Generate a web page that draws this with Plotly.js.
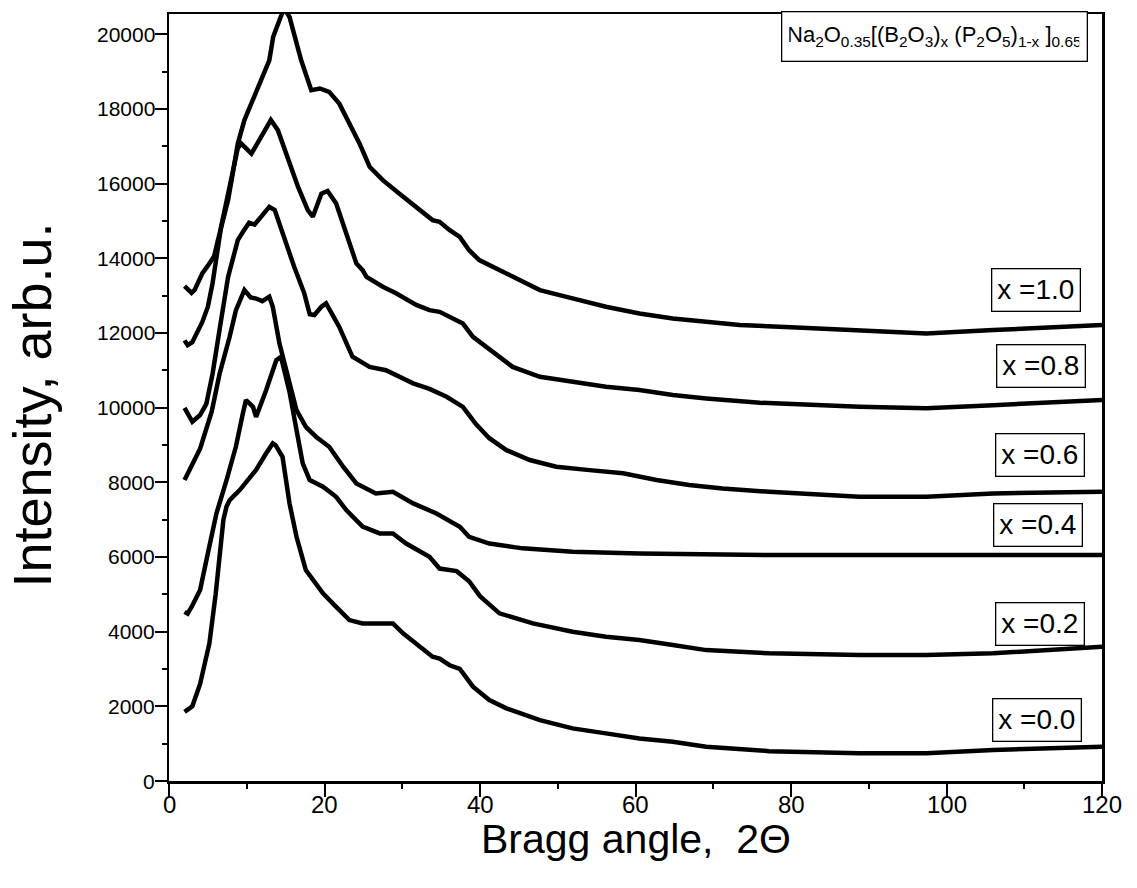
<!DOCTYPE html>
<html>
<head>
<meta charset="utf-8">
<script src="https://cdn.plot.ly/plotly-3.0.1.min.js"></script>
<style>
html,body{margin:0;padding:0;background:#fff;}
#chart{width:1137px;height:888px;}
</style>
</head>
<body>
<div id="chart"></div>
<script>
// Series (2Θ in degrees, intensity in arb.u.)
const x10 = [2.0, 2.9, 3.3, 4.3, 5.0, 5.8, 6.3, 6.9, 7.6, 8.2, 8.85, 9.7, 11.0, 12.1, 12.9, 13.4, 14.0, 14.8, 15.5, 16.4, 17.0, 18.3, 19.4, 20.6, 21.9, 23.2, 24.5, 25.8, 27.5, 29.6, 31.8, 33.9, 34.8, 36.1, 37.4, 38.6, 39.9, 43.4, 47.7, 51.9, 56.2, 60.5, 64.8, 69.1, 73.4, 80, 88.8, 97.4, 106, 113, 120];
const y10 = [13250, 13070, 13150, 13600, 13800, 14050, 14485, 15020, 15555, 16270, 17070, 17700, 18320, 18900, 19300, 19930, 20300, 20700, 20460, 19750, 19300, 18500, 18545, 18455, 18140, 17610, 17075, 16450, 16090, 15735, 15375, 15020, 14975, 14750, 14570, 14215, 13950, 13590, 13145, 12925, 12700, 12520, 12385, 12300, 12210, 12150, 12075, 11985, 12075, 12150, 12210];

const x08 = [2.0, 2.4, 3.0, 4.3, 5.0, 5.6, 6.7, 7.6, 8.85, 9.3, 10.6, 11.85, 13.1, 14.0, 15.3, 16.6, 17.85, 18.5, 19.6, 20.4, 21.5, 22.8, 24.1, 24.9, 25.4, 27.5, 29.2, 31.8, 33.5, 34.8, 36.1, 37.8, 39.1, 41.2, 44.2, 47.7, 51.9, 56.2, 60.5, 64.8, 69.1, 73.4, 76, 88.8, 97.4, 106, 113, 120];
const y08 = [11800, 11670, 11750, 12300, 12700, 13325, 14840, 15730, 16950, 17070, 16800, 17250, 17700, 17430, 16630, 15910, 15290, 15110, 15730, 15800, 15465, 14665, 13860, 13680, 13500, 13235, 13060, 12750, 12610, 12565, 12430, 12250, 11895, 11560, 11090, 10825, 10690, 10560, 10470, 10335, 10245, 10155, 10130, 10020, 9980, 10065, 10130, 10200];

const x06 = [2.0, 3.0, 4.0, 4.8, 5.6, 6.3, 6.7, 7.6, 8.85, 9.5, 10.3, 11.0, 11.85, 12.9, 13.6, 14.9, 16.1, 17.4, 18.1, 18.7, 19.6, 20.2, 21.0, 21.9, 23.6, 25.8, 27.9, 29.5, 31.4, 33.5, 35.7, 37.8, 38.6, 39.5, 41.2, 43.4, 46.4, 49.8, 54.1, 58.4, 62.7, 66.9, 71.2, 77.2, 88.8, 97.4, 106, 120];
const y06 = [9990, 9620, 9800, 10100, 10900, 11900, 12340, 13500, 14485, 14700, 14950, 14900, 15110, 15375, 15290, 14485, 13770, 13060, 12500, 12480, 12700, 12790, 12500, 12160, 11360, 11090, 11000, 10850, 10650, 10500, 10290, 10020, 9800, 9550, 9180, 8860, 8595, 8415, 8325, 8240, 8060, 7925, 7835, 7745, 7610, 7610, 7700, 7745];

const x04 = [2.0, 4.0, 5.5, 6.5, 7.8, 8.6, 9.7, 10.5, 11.2, 12.0, 12.9, 13.35, 14.2, 15.1, 16.4, 17.6, 18.9, 20.6, 22.4, 24.1, 26.6, 28.8, 31.4, 34.4, 35.5, 37.4, 38.6, 41.2, 45.5, 51.9, 60.5, 77.2, 100, 120];
const y04 = [8060, 8900, 9900, 10900, 11895, 12600, 13150, 12950, 12920, 12850, 12970, 12700, 11720, 11000, 9930, 9485, 9220, 8950, 8415, 7970, 7700, 7745, 7435, 7165, 7030, 6810, 6540, 6360, 6230, 6140, 6095, 6050, 6050, 6050];

const x02 = [2.0, 2.4, 3.0, 4.0, 5.0, 6.1, 7.4, 8.6, 9.5, 9.9, 10.8, 11.2, 12.5, 13.8, 14.4, 15.5, 16.4, 17.2, 18.1, 19.8, 21.5, 22.8, 24.9, 27.1, 28.8, 30.5, 33.5, 34.8, 37.0, 38.6, 40.0, 42.5, 46.8, 51.9, 56.2, 60.5, 64.8, 69.1, 77.2, 88.8, 97.4, 106, 120];
const y02 = [4530, 4480, 4700, 5115, 6100, 7165, 8060, 8950, 9840, 10200, 10020, 9750, 10470, 11270, 11360, 10420, 9400, 8505, 8060, 7880, 7610, 7255, 6810, 6630, 6630, 6360, 6005, 5690, 5620, 5350, 4950, 4490, 4220, 3995, 3865, 3775, 3640, 3505, 3420, 3375, 3375, 3420, 3595];

const x00 = [2.0, 2.4, 3.0, 4.0, 5.2, 6.0, 6.5, 7.0, 7.4, 7.8, 9.1, 11.2, 12.5, 13.35, 13.7, 14.6, 15.5, 16.4, 17.6, 19.8, 21.5, 23.2, 24.9, 27.5, 28.8, 30.1, 31.8, 33.9, 34.8, 36.1, 37.4, 39.1, 41.2, 43.4, 47.7, 51.9, 56.2, 60.5, 64.8, 69.1, 77.2, 88.8, 97.4, 106, 120];
const y00 = [1850, 1900, 2000, 2600, 3690, 5000, 5915, 7000, 7350, 7520, 7790, 8330, 8775, 9040, 8995, 8680, 7435, 6540, 5650, 5025, 4665, 4310, 4220, 4220, 4220, 3955, 3690, 3330, 3280, 3100, 3000, 2525, 2170, 1945, 1630, 1410, 1275, 1140, 1050, 920, 800, 740, 740, 830, 920];

const seriesX = [x00, x02, x04, x06, x08, x10];
const seriesY = [y00, y02, y04, y06, y08, y10];
const labels = ['x =0.0', 'x =0.2', 'x =0.4', 'x =0.6', 'x =0.8', 'x =1.0'];
// label anchor positions in data units
const labelX = [111.6, 112.0, 111.8, 112.0, 112.1, 111.5];
const labelY = [1645, 4205, 6845, 8740, 11110, 13150];

// tick values and tick labels
const xTickVals = [0, 20, 40, 60, 80, 100, 120];
const xTickLabels = ['0', '20', '40', '60', '80', '100', '120'];
const yTickVals = [0, 2000, 4000, 6000, 8000, 10000, 12000, 14000, 16000, 18000, 20000];
const yTickLabels = ['0', '2000', '4000', '6000', '8000', '10000', '12000', '14000', '16000', '18000', '20000'];

const xTitle = 'Bragg angle,  2Θ';
const yTitle = 'Intensity, arb.u.';
const boxTitle = 'Na<sub>2</sub>O<sub>0.35</sub>[(B<sub>2</sub>O<sub>3</sub>)<sub>x</sub> (P<sub>2</sub>O<sub>5</sub>)<sub>1-x</sub> ]<sub>0.65</sub>';

const FONT = 'Liberation Sans, Arial, sans-serif';

// the first series sits on the overlay axes (identical ranges) that carry the minor ticks
const traces = seriesX.map((xs, i) => ({
  type: 'scatter', mode: 'lines', x: xs, y: seriesY[i], name: labels[i],
  xaxis: i === 0 ? 'x2' : 'x', yaxis: i === 0 ? 'y2' : 'y',
  line: {color: '#000', width: 4.5, shape: 'linear'}, hoverinfo: 'skip'
}));

const annotations = labels.map((t, i) => ({
  x: labelX[i], y: labelY[i], xref: 'x', yref: 'y', text: t, showarrow: false,
  font: {family: FONT, size: 28, color: '#000'},
  bordercolor: '#000', borderwidth: 1.3, borderpad: 5, bgcolor: '#fff'
}));
annotations.push({
  x: 98.5, y: 19930, xref: 'x', yref: 'y', text: boxTitle, showarrow: false,
  font: {family: FONT, size: 22, color: '#000'}, width: 290, height: 34,
  bordercolor: '#000', borderwidth: 1.3, borderpad: 7, bgcolor: '#fff'
});
// tick labels, placed by the axis scales
xTickVals.forEach((v, i) => annotations.push({
  x: v, xref: 'x', y: 0, yref: 'paper', yanchor: 'middle', yshift: -23, xanchor: 'center',
  text: xTickLabels[i], showarrow: false, font: {family: FONT, size: 24, color: '#000'}
}));
yTickVals.forEach((v, i) => annotations.push({
  x: 0, xref: 'paper', y: v, yref: 'y', xanchor: 'right', xshift: -12, yanchor: 'middle',
  text: yTickLabels[i], showarrow: false, font: {family: FONT, size: 21, color: '#000'}
}));
// axis titles
annotations.push({
  x: 0.5, y: -0.075, xref: 'paper', yref: 'paper', xanchor: 'center', yanchor: 'middle',
  text: xTitle, showarrow: false, font: {family: FONT, size: 41, color: '#000'}
});
annotations.push({
  x: -0.1468, y: 0.4895, xref: 'paper', yref: 'paper', xanchor: 'center', yanchor: 'middle',
  text: yTitle, textangle: -90, showarrow: false, font: {family: FONT, size: 54, color: '#000'}
});

const layout = {
  width: 1137, height: 888,
  margin: {l: 169, r: 35, t: 14, b: 107},
  paper_bgcolor: '#fff', plot_bgcolor: '#fff',
  showlegend: false,
  font: {family: FONT, color: '#000', size: 23},
  xaxis: {
    range: [0, 120], tickmode: 'array', tickvals: xTickVals, showticklabels: false,
    ticks: 'outside', ticklen: 13, tickwidth: 2,
    tickcolor: '#000', showline: true, linewidth: 2.5, linecolor: '#000', mirror: true,
    showgrid: false, zeroline: false
  },
  yaxis: {
    range: [0, 20540], tickmode: 'array', tickvals: yTickVals, showticklabels: false,
    ticks: 'outside', ticklen: 12, tickwidth: 2,
    tickcolor: '#000', showline: true, linewidth: 2.5, linecolor: '#000', mirror: true,
    showgrid: false, zeroline: false
  },
  xaxis2: {
    overlaying: 'x', anchor: 'y2', side: 'bottom', range: [0, 120], tick0: 0, dtick: 10,
    ticks: 'outside', ticklen: 7, tickwidth: 2, tickcolor: '#000',
    showticklabels: false, showline: false, showgrid: false, zeroline: false
  },
  yaxis2: {
    overlaying: 'y', anchor: 'x2', side: 'left', range: [0, 20540], tick0: 0, dtick: 1000,
    ticks: 'outside', ticklen: 6, tickwidth: 2, tickcolor: '#000',
    showticklabels: false, showline: false, showgrid: false, zeroline: false
  },
  annotations: annotations
};

Plotly.newPlot('chart', traces, layout, {staticPlot: true, displayModeBar: false});
</script>
</body>
</html>
